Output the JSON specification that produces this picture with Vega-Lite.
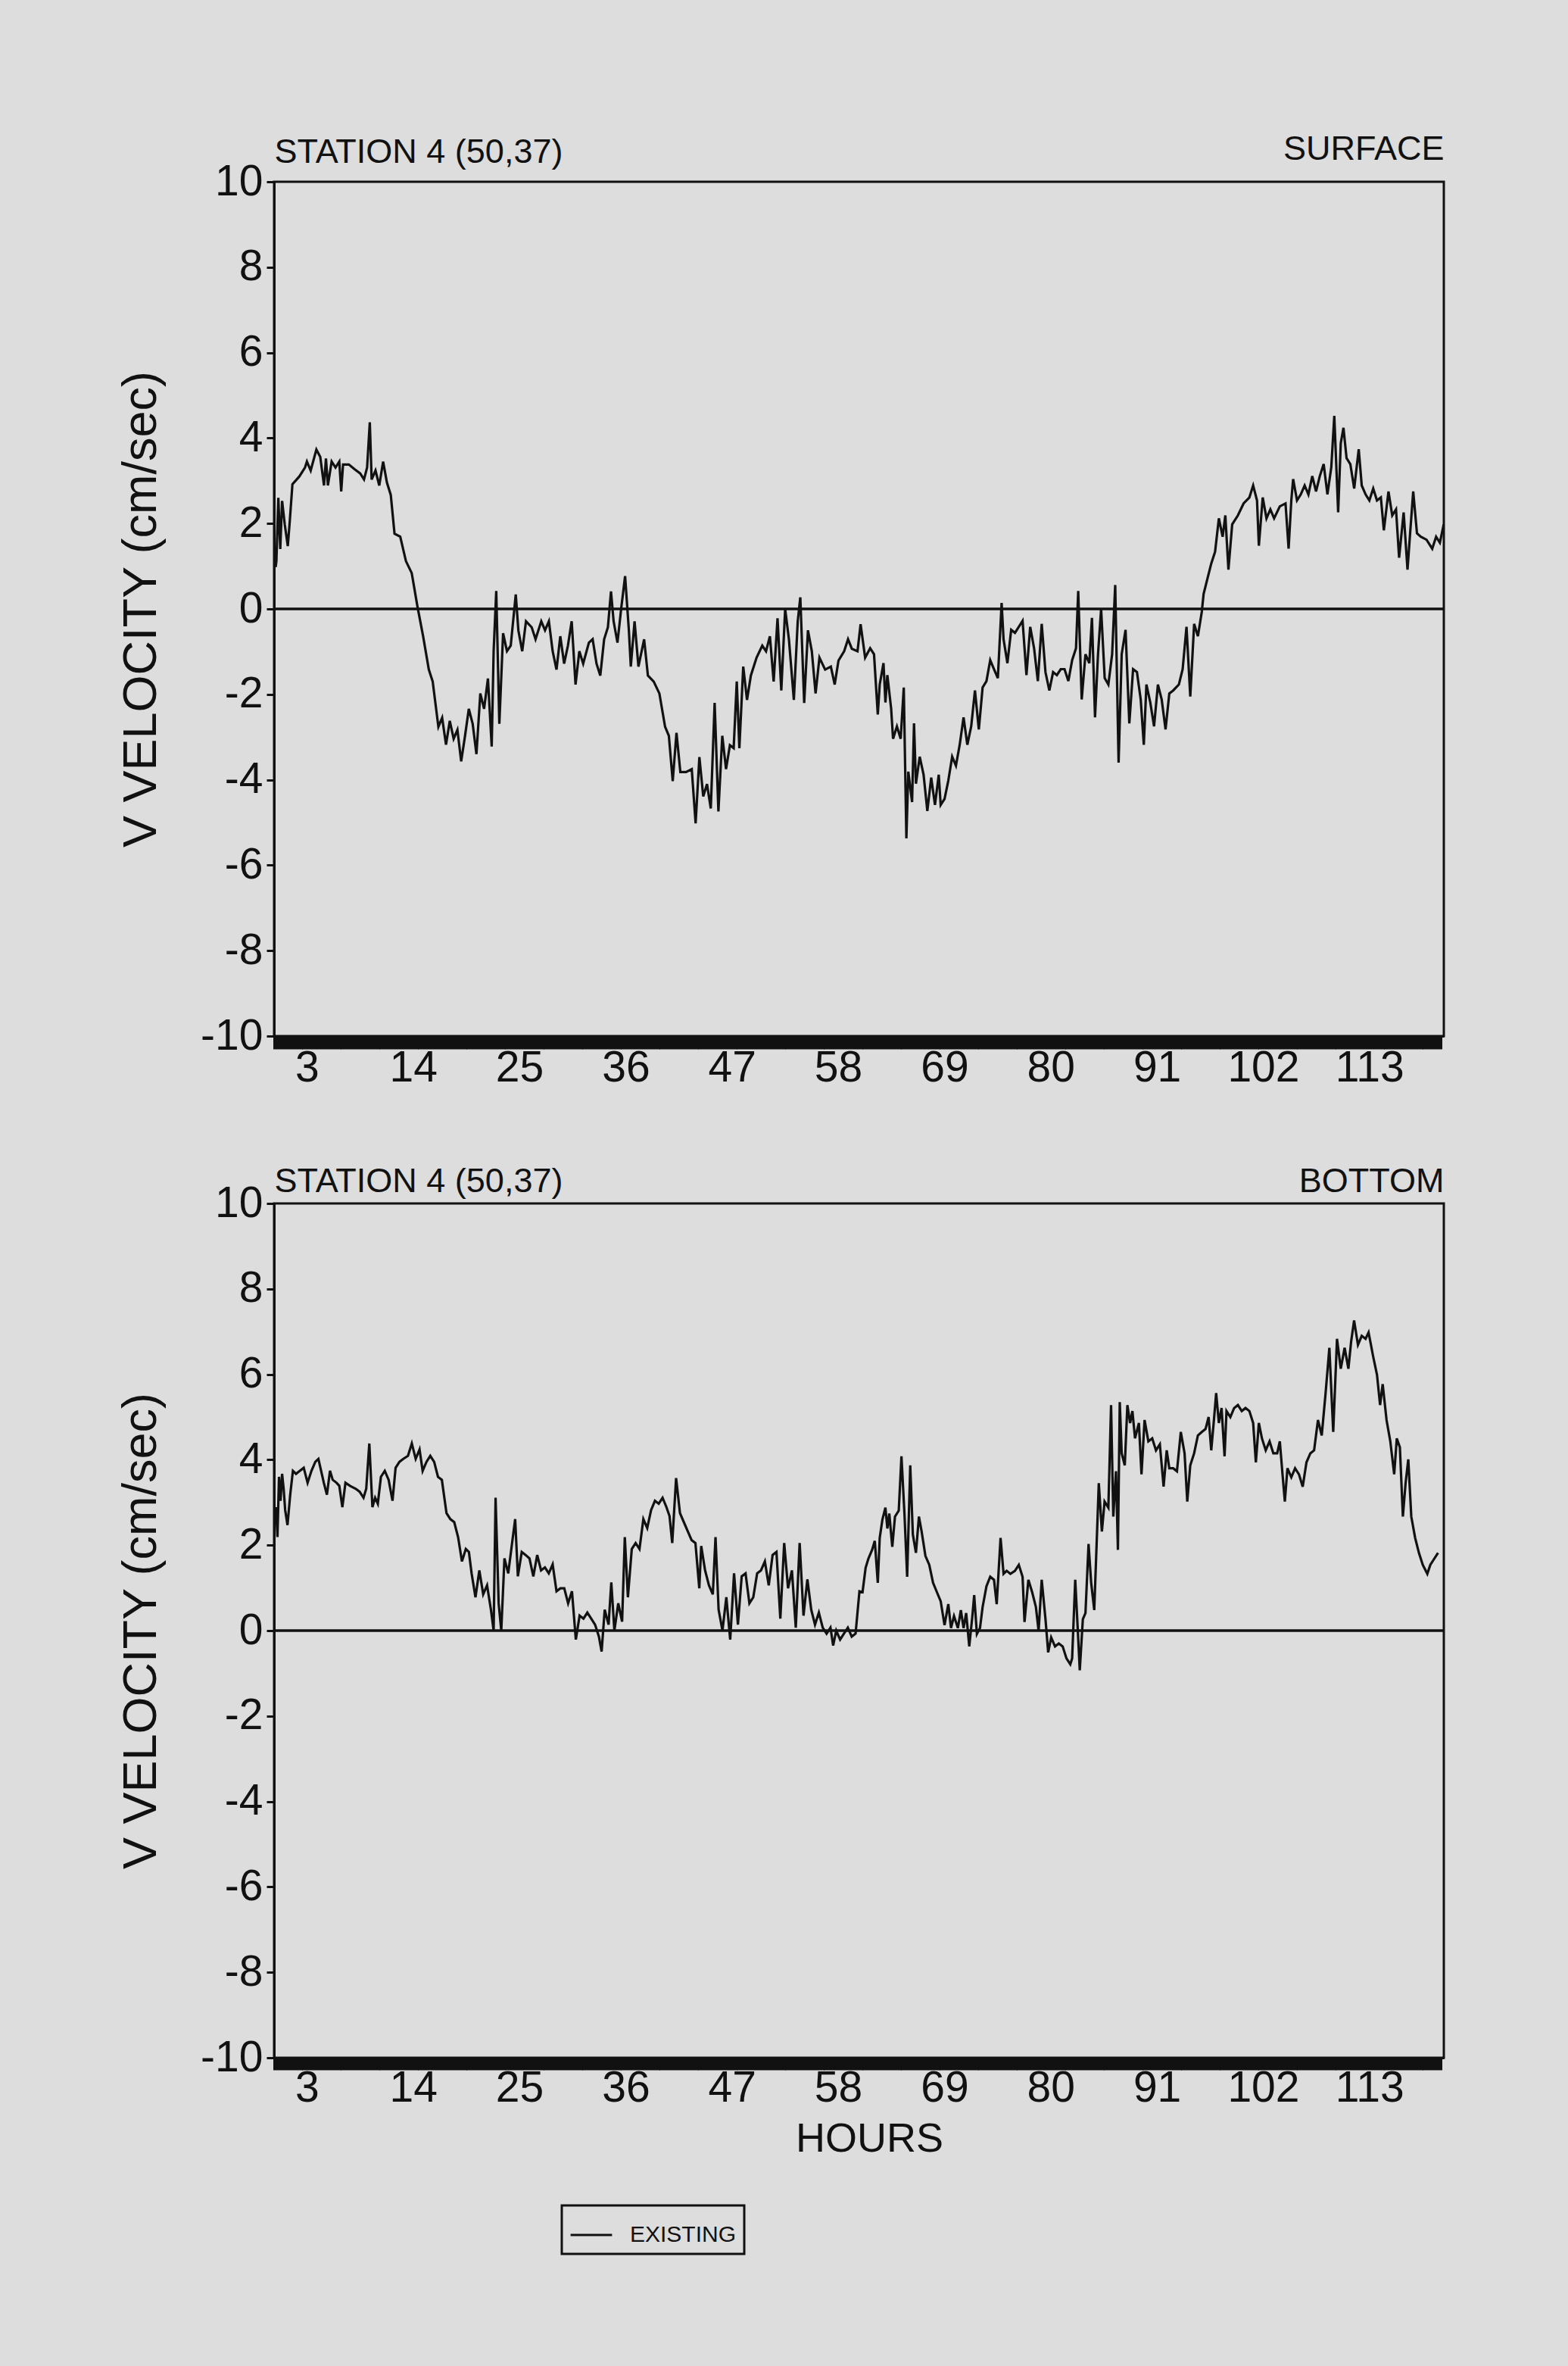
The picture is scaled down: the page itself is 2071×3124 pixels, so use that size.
{
  "$schema": "https://vega.github.io/schema/vega-lite/v6.json",
  "background": "#dddddd",
  "padding": {"left": 154, "top": 172, "right": 185, "bottom": 150},
  "bounds": "flush",
  "spacing": 221,
  "datasets": {
    "surface": [
      {"h": -0.24, "v": 0.98}, {"h": -0.16, "v": 1.12}, {"h": 0.04, "v": 2.6}, {"h": 0.24, "v": 1.4}, {"h": 0.43, "v": 2.53}, {"h": 0.71, "v": 1.97}, {"h": 1.02, "v": 1.47}, {"h": 1.22, "v": 2.04}, {"h": 1.5, "v": 2.92}, {"h": 2.21, "v": 3.1}, {"h": 2.8, "v": 3.31}, {"h": 3.0, "v": 3.45}, {"h": 3.39, "v": 3.24}, {"h": 3.98, "v": 3.73}, {"h": 4.38, "v": 3.56}, {"h": 4.77, "v": 2.89}, {"h": 4.97, "v": 3.52}, {"h": 5.17, "v": 2.89}, {"h": 5.56, "v": 3.45}, {"h": 5.96, "v": 3.31}, {"h": 6.35, "v": 3.45}, {"h": 6.55, "v": 2.75}, {"h": 6.74, "v": 3.38}, {"h": 7.34, "v": 3.38}, {"h": 7.93, "v": 3.27}, {"h": 8.52, "v": 3.17}, {"h": 8.91, "v": 3.03}, {"h": 9.23, "v": 3.31}, {"h": 9.51, "v": 4.37}, {"h": 9.7, "v": 3.03}, {"h": 10.1, "v": 3.24}, {"h": 10.49, "v": 2.89}, {"h": 10.89, "v": 3.45}, {"h": 11.28, "v": 2.96}, {"h": 11.68, "v": 2.67}, {"h": 12.07, "v": 1.76}, {"h": 12.66, "v": 1.69}, {"h": 13.25, "v": 1.12}, {"h": 13.85, "v": 0.84}, {"h": 14.44, "v": 0.06}, {"h": 15.03, "v": -0.64}, {"h": 15.62, "v": -1.42}, {"h": 16.02, "v": -1.7}, {"h": 16.61, "v": -2.76}, {"h": 17.0, "v": -2.55}, {"h": 17.4, "v": -3.18}, {"h": 17.79, "v": -2.62}, {"h": 18.19, "v": -3.04}, {"h": 18.58, "v": -2.83}, {"h": 18.97, "v": -3.57}, {"h": 19.37, "v": -2.97}, {"h": 19.76, "v": -2.34}, {"h": 20.16, "v": -2.69}, {"h": 20.55, "v": -3.4}, {"h": 20.95, "v": -1.98}, {"h": 21.34, "v": -2.34}, {"h": 21.74, "v": -1.63}, {"h": 22.13, "v": -3.22}, {"h": 22.33, "v": -0.99}, {"h": 22.6, "v": 0.42}, {"h": 22.92, "v": -2.69}, {"h": 23.31, "v": -0.57}, {"h": 23.71, "v": -0.99}, {"h": 24.1, "v": -0.86}, {"h": 24.62, "v": 0.34}, {"h": 24.89, "v": -0.5}, {"h": 25.29, "v": -0.99}, {"h": 25.68, "v": -0.29}, {"h": 26.27, "v": -0.43}, {"h": 26.67, "v": -0.71}, {"h": 27.26, "v": -0.29}, {"h": 27.65, "v": -0.5}, {"h": 28.05, "v": -0.29}, {"h": 28.44, "v": -0.99}, {"h": 28.84, "v": -1.42}, {"h": 29.23, "v": -0.64}, {"h": 29.63, "v": -1.28}, {"h": 30.02, "v": -0.86}, {"h": 30.41, "v": -0.29}, {"h": 30.81, "v": -1.77}, {"h": 31.2, "v": -0.99}, {"h": 31.6, "v": -1.28}, {"h": 32.19, "v": -0.79}, {"h": 32.58, "v": -0.71}, {"h": 32.98, "v": -1.28}, {"h": 33.37, "v": -1.56}, {"h": 33.77, "v": -0.71}, {"h": 34.16, "v": -0.43}, {"h": 34.48, "v": 0.41}, {"h": 34.75, "v": -0.29}, {"h": 35.15, "v": -0.79}, {"h": 35.54, "v": 0.02}, {"h": 35.94, "v": 0.77}, {"h": 36.33, "v": -0.5}, {"h": 36.53, "v": -1.35}, {"h": 36.92, "v": -0.29}, {"h": 37.32, "v": -1.35}, {"h": 37.91, "v": -0.71}, {"h": 38.3, "v": -1.56}, {"h": 38.9, "v": -1.7}, {"h": 39.49, "v": -1.98}, {"h": 40.08, "v": -2.76}, {"h": 40.47, "v": -2.97}, {"h": 40.87, "v": -4.03}, {"h": 41.26, "v": -2.9}, {"h": 41.66, "v": -3.82}, {"h": 42.25, "v": -3.82}, {"h": 42.84, "v": -3.75}, {"h": 43.24, "v": -5.02}, {"h": 43.63, "v": -3.47}, {"h": 44.03, "v": -4.39}, {"h": 44.42, "v": -4.1}, {"h": 44.81, "v": -4.67}, {"h": 45.21, "v": -2.2}, {"h": 45.6, "v": -4.74}, {"h": 46.0, "v": -2.97}, {"h": 46.39, "v": -3.75}, {"h": 46.79, "v": -3.19}, {"h": 47.18, "v": -3.26}, {"h": 47.5, "v": -1.7}, {"h": 47.77, "v": -3.26}, {"h": 48.17, "v": -1.35}, {"h": 48.56, "v": -2.13}, {"h": 48.96, "v": -1.56}, {"h": 49.55, "v": -1.14}, {"h": 50.14, "v": -0.86}, {"h": 50.53, "v": -0.99}, {"h": 50.93, "v": -0.64}, {"h": 51.32, "v": -1.7}, {"h": 51.72, "v": -0.22}, {"h": 52.11, "v": -1.91}, {"h": 52.51, "v": 0.0}, {"h": 52.9, "v": -0.71}, {"h": 53.41, "v": -2.13}, {"h": 53.81, "v": -0.29}, {"h": 54.08, "v": 0.27}, {"h": 54.48, "v": -2.2}, {"h": 54.87, "v": -0.5}, {"h": 55.27, "v": -0.99}, {"h": 55.66, "v": -1.98}, {"h": 56.06, "v": -1.14}, {"h": 56.65, "v": -1.42}, {"h": 57.24, "v": -1.35}, {"h": 57.64, "v": -1.77}, {"h": 58.03, "v": -1.21}, {"h": 58.62, "v": -0.99}, {"h": 59.02, "v": -0.71}, {"h": 59.41, "v": -0.93}, {"h": 60.0, "v": -0.99}, {"h": 60.32, "v": -0.36}, {"h": 60.79, "v": -1.14},
      {"h": 61.31, "v": -0.92}, {"h": 61.71, "v": -1.06}, {"h": 62.1, "v": -2.47}, {"h": 62.3, "v": -1.77}, {"h": 62.69, "v": -1.27}, {"h": 62.89, "v": -2.19}, {"h": 63.09, "v": -1.55}, {"h": 63.48, "v": -2.33}, {"h": 63.68, "v": -3.04}, {"h": 64.08, "v": -2.75}, {"h": 64.47, "v": -3.04}, {"h": 64.79, "v": -1.84}, {"h": 65.06, "v": -5.37}, {"h": 65.26, "v": -3.81}, {"h": 65.65, "v": -4.52}, {"h": 65.85, "v": -2.68}, {"h": 66.05, "v": -4.09}, {"h": 66.44, "v": -3.46}, {"h": 66.84, "v": -3.88}, {"h": 67.23, "v": -4.73}, {"h": 67.63, "v": -3.95}, {"h": 68.02, "v": -4.59}, {"h": 68.41, "v": -3.88}, {"h": 68.61, "v": -4.59}, {"h": 69.01, "v": -4.45}, {"h": 69.4, "v": -4.02}, {"h": 69.8, "v": -3.46}, {"h": 70.19, "v": -3.67}, {"h": 70.58, "v": -3.18}, {"h": 70.98, "v": -2.54}, {"h": 71.37, "v": -3.18}, {"h": 71.77, "v": -2.75}, {"h": 72.16, "v": -1.91}, {"h": 72.56, "v": -2.82}, {"h": 72.95, "v": -1.84}, {"h": 73.35, "v": -1.69}, {"h": 73.74, "v": -1.2}, {"h": 74.13, "v": -1.41}, {"h": 74.53, "v": -1.62}, {"h": 74.92, "v": 0.14}, {"h": 75.12, "v": -0.71}, {"h": 75.52, "v": -1.27}, {"h": 75.91, "v": -0.49}, {"h": 76.3, "v": -0.56}, {"h": 76.7, "v": -0.42}, {"h": 77.09, "v": -0.28}, {"h": 77.49, "v": -1.55}, {"h": 77.88, "v": -0.42}, {"h": 78.28, "v": -0.92}, {"h": 78.67, "v": -1.69}, {"h": 79.07, "v": -0.35}, {"h": 79.46, "v": -1.48}, {"h": 79.86, "v": -1.91}, {"h": 80.25, "v": -1.48}, {"h": 80.64, "v": -1.55}, {"h": 81.04, "v": -1.41}, {"h": 81.43, "v": -1.41}, {"h": 81.83, "v": -1.69}, {"h": 82.22, "v": -1.2}, {"h": 82.62, "v": -0.92}, {"h": 82.85, "v": 0.42}, {"h": 83.21, "v": -2.12}, {"h": 83.6, "v": -1.06}, {"h": 84.0, "v": -1.27}, {"h": 84.27, "v": -0.21}, {"h": 84.59, "v": -2.54}, {"h": 84.9, "v": -1.06}, {"h": 85.22, "v": 0.0}, {"h": 85.59, "v": -1.62}, {"h": 85.97, "v": -1.77}, {"h": 86.36, "v": -1.06}, {"h": 86.68, "v": 0.56}, {"h": 87.03, "v": -3.6}, {"h": 87.35, "v": -1.06}, {"h": 87.75, "v": -0.49}, {"h": 88.14, "v": -2.68}, {"h": 88.53, "v": -1.41}, {"h": 88.93, "v": -1.48}, {"h": 89.32, "v": -2.12}, {"h": 89.64, "v": -3.18}, {"h": 89.91, "v": -1.77}, {"h": 90.31, "v": -2.19}, {"h": 90.7, "v": -2.75}, {"h": 91.1, "v": -1.77}, {"h": 91.49, "v": -2.12}, {"h": 91.89, "v": -2.82}, {"h": 92.28, "v": -1.98}, {"h": 92.68, "v": -1.91}, {"h": 93.27, "v": -1.77}, {"h": 93.66, "v": -1.41}, {"h": 94.06, "v": -0.42}, {"h": 94.45, "v": -2.05}, {"h": 94.85, "v": -0.35}, {"h": 95.24, "v": -0.64}, {"h": 95.64, "v": -0.07}, {"h": 95.83, "v": 0.35}, {"h": 96.23, "v": 0.71}, {"h": 96.62, "v": 1.06}, {"h": 97.02, "v": 1.34}, {"h": 97.41, "v": 2.12}, {"h": 97.8, "v": 1.69}, {"h": 98.08, "v": 2.19}, {"h": 98.4, "v": 0.92}, {"h": 98.79, "v": 1.98}, {"h": 99.38, "v": 2.19}, {"h": 99.97, "v": 2.47}, {"h": 100.57, "v": 2.61}, {"h": 100.96, "v": 2.89}, {"h": 101.36, "v": 2.54}, {"h": 101.55, "v": 1.48}, {"h": 101.95, "v": 2.61}, {"h": 102.34, "v": 2.12}, {"h": 102.74, "v": 2.33}, {"h": 103.13, "v": 2.12}, {"h": 103.72, "v": 2.4}, {"h": 104.31, "v": 2.47}, {"h": 104.63, "v": 1.41}, {"h": 104.91, "v": 2.54}, {"h": 105.1, "v": 3.04}, {"h": 105.5, "v": 2.54}, {"h": 105.89, "v": 2.68}, {"h": 106.29, "v": 2.89}, {"h": 106.68, "v": 2.68}, {"h": 107.08, "v": 3.11}, {"h": 107.47, "v": 2.75}, {"h": 107.86, "v": 3.11}, {"h": 108.26, "v": 3.39}, {"h": 108.65, "v": 2.68}, {"h": 109.05, "v": 3.32}, {"h": 109.36, "v": 4.52}, {"h": 109.76, "v": 2.26}, {"h": 110.03, "v": 3.88}, {"h": 110.31, "v": 4.24}, {"h": 110.63, "v": 3.53}, {"h": 111.02, "v": 3.39}, {"h": 111.42, "v": 2.82}, {"h": 111.89, "v": 3.74}, {"h": 112.2, "v": 2.89}, {"h": 112.6, "v": 2.68}, {"h": 112.99, "v": 2.54}, {"h": 113.39, "v": 2.82}, {"h": 113.78, "v": 2.54}, {"h": 114.18, "v": 2.61}, {"h": 114.49, "v": 1.84}, {"h": 114.97, "v": 2.75}, {"h": 115.36, "v": 2.19}, {"h": 115.75, "v": 2.33}, {"h": 116.07, "v": 1.2}, {"h": 116.54, "v": 2.26}, {"h": 116.94, "v": 0.92}, {"h": 117.21, "v": 1.77}, {"h": 117.53, "v": 2.75}, {"h": 117.92, "v": 1.77}, {"h": 118.32, "v": 1.69}, {"h": 118.91, "v": 1.62}, {"h": 119.5, "v": 1.41}, {"h": 119.9, "v": 1.69}, {"h": 120.29, "v": 1.55}, {"h": 120.69, "v": 1.98}
    ],
    "bottom": [
      {"h": -0.2, "v": 2.89}, {"h": -0.05, "v": 2.19}, {"h": 0.11, "v": 3.6}, {"h": 0.27, "v": 3.04}, {"h": 0.43, "v": 3.67}, {"h": 0.59, "v": 3.32}, {"h": 0.75, "v": 2.82}, {"h": 0.99, "v": 2.47}, {"h": 1.27, "v": 3.18}, {"h": 1.55, "v": 3.74}, {"h": 1.87, "v": 3.67}, {"h": 2.27, "v": 3.74}, {"h": 2.67, "v": 3.81}, {"h": 3.07, "v": 3.46}, {"h": 3.47, "v": 3.74}, {"h": 3.87, "v": 3.95}, {"h": 4.19, "v": 4.02}, {"h": 4.47, "v": 3.74}, {"h": 4.75, "v": 3.46}, {"h": 5.07, "v": 3.18}, {"h": 5.39, "v": 3.74}, {"h": 5.67, "v": 3.53}, {"h": 6.07, "v": 3.46}, {"h": 6.35, "v": 3.39}, {"h": 6.67, "v": 2.89}, {"h": 6.99, "v": 3.46}, {"h": 7.46, "v": 3.39}, {"h": 8.06, "v": 3.32}, {"h": 8.46, "v": 3.25}, {"h": 8.86, "v": 3.11}, {"h": 9.14, "v": 3.32}, {"h": 9.46, "v": 4.38}, {"h": 9.78, "v": 2.89}, {"h": 10.06, "v": 3.11}, {"h": 10.34, "v": 2.97}, {"h": 10.66, "v": 3.6}, {"h": 11.06, "v": 3.74}, {"h": 11.46, "v": 3.53}, {"h": 11.86, "v": 3.04}, {"h": 12.18, "v": 3.81}, {"h": 12.58, "v": 3.95}, {"h": 12.98, "v": 4.02}, {"h": 13.46, "v": 4.09}, {"h": 13.86, "v": 4.38}, {"h": 14.26, "v": 4.02}, {"h": 14.66, "v": 4.24}, {"h": 14.98, "v": 3.74}, {"h": 15.38, "v": 3.95}, {"h": 15.77, "v": 4.09}, {"h": 16.17, "v": 3.95}, {"h": 16.57, "v": 3.6}, {"h": 16.97, "v": 3.53}, {"h": 17.45, "v": 2.75}, {"h": 17.85, "v": 2.61}, {"h": 18.25, "v": 2.54}, {"h": 18.65, "v": 2.19}, {"h": 19.05, "v": 1.62}, {"h": 19.45, "v": 1.91}, {"h": 19.77, "v": 1.84}, {"h": 20.05, "v": 1.34}, {"h": 20.45, "v": 0.78}, {"h": 20.85, "v": 1.41}, {"h": 21.25, "v": 0.85}, {"h": 21.65, "v": 1.06}, {"h": 22.05, "v": 0.49}, {"h": 22.33, "v": 0.0}, {"h": 22.53, "v": 3.11}, {"h": 22.85, "v": 0.64}, {"h": 23.12, "v": 0.0}, {"h": 23.45, "v": 1.69}, {"h": 23.84, "v": 1.34}, {"h": 24.24, "v": 2.05}, {"h": 24.56, "v": 2.61}, {"h": 24.84, "v": 1.27}, {"h": 25.24, "v": 1.84}, {"h": 25.64, "v": 1.77}, {"h": 26.04, "v": 1.69}, {"h": 26.44, "v": 1.27}, {"h": 26.84, "v": 1.77}, {"h": 27.24, "v": 1.41}, {"h": 27.64, "v": 1.48}, {"h": 28.04, "v": 1.34}, {"h": 28.44, "v": 1.55}, {"h": 28.84, "v": 0.92}, {"h": 29.24, "v": 0.99}, {"h": 29.64, "v": 0.99}, {"h": 30.04, "v": 0.64}, {"h": 30.44, "v": 0.92}, {"h": 30.84, "v": -0.21}, {"h": 31.23, "v": 0.35}, {"h": 31.63, "v": 0.28}, {"h": 32.03, "v": 0.42}, {"h": 32.43, "v": 0.28}, {"h": 32.83, "v": 0.14}, {"h": 33.23, "v": -0.14}, {"h": 33.51, "v": -0.49}, {"h": 33.83, "v": 0.49}, {"h": 34.23, "v": 0.14}, {"h": 34.51, "v": 1.13}, {"h": 34.83, "v": 0.0}, {"h": 35.23, "v": 0.64}, {"h": 35.63, "v": 0.21}, {"h": 35.91, "v": 2.19}, {"h": 36.23, "v": 0.78}, {"h": 36.63, "v": 1.91}, {"h": 37.03, "v": 2.05}, {"h": 37.43, "v": 1.91}, {"h": 37.83, "v": 2.61}, {"h": 38.23, "v": 2.4}, {"h": 38.63, "v": 2.82}, {"h": 39.03, "v": 3.04}, {"h": 39.42, "v": 2.97}, {"h": 39.82, "v": 3.11}, {"h": 40.22, "v": 2.89}, {"h": 40.54, "v": 2.68}, {"h": 40.82, "v": 2.05}, {"h": 41.22, "v": 3.57}, {"h": 41.62, "v": 2.75}, {"h": 42.02, "v": 2.54}, {"h": 42.42, "v": 2.33}, {"h": 42.82, "v": 2.12}, {"h": 43.22, "v": 2.05}, {"h": 43.62, "v": 0.99}, {"h": 43.82, "v": 1.98}, {"h": 44.22, "v": 1.41}, {"h": 44.62, "v": 1.06}, {"h": 45.02, "v": 0.85}, {"h": 45.3, "v": 2.19}, {"h": 45.62, "v": 0.49}, {"h": 46.02, "v": 0.0}, {"h": 46.42, "v": 0.78}, {"h": 46.82, "v": -0.21}, {"h": 47.22, "v": 1.34}, {"h": 47.62, "v": 0.14}, {"h": 48.01, "v": 1.27}, {"h": 48.41, "v": 1.34}, {"h": 48.81, "v": 0.64}, {"h": 49.21, "v": 0.78}, {"h": 49.61, "v": 1.34}, {"h": 50.01, "v": 1.41}, {"h": 50.41, "v": 1.62}, {"h": 50.81, "v": 1.06}, {"h": 51.21, "v": 1.77}, {"h": 51.61, "v": 1.84}, {"h": 52.01, "v": 0.28}, {"h": 52.41, "v": 2.05}, {"h": 52.81, "v": 0.99}, {"h": 53.21, "v": 1.41}, {"h": 53.61, "v": 0.07}, {"h": 54.01, "v": 2.05}, {"h": 54.41, "v": 0.35}, {"h": 54.81, "v": 1.2}, {"h": 55.21, "v": 0.49}, {"h": 55.6, "v": 0.14}, {"h": 56.0, "v": 0.42}, {"h": 56.4, "v": 0.07}, {"h": 56.8, "v": -0.07}, {"h": 57.2, "v": 0.07}, {"h": 57.48, "v": -0.35}, {"h": 57.8, "v": 0.0}, {"h": 58.2, "v": -0.21}, {"h": 58.6, "v": -0.07}, {"h": 59.0, "v": 0.07}, {"h": 59.4, "v": -0.14}, {"h": 59.8, "v": -0.07}, {"h": 60.2, "v": 0.92},
      {"h": 60.52, "v": 0.9}, {"h": 60.84, "v": 1.47}, {"h": 61.12, "v": 1.68}, {"h": 61.51, "v": 1.89}, {"h": 61.79, "v": 2.1}, {"h": 62.1, "v": 1.12}, {"h": 62.3, "v": 2.17}, {"h": 62.58, "v": 2.6}, {"h": 62.89, "v": 2.88}, {"h": 63.09, "v": 2.39}, {"h": 63.29, "v": 2.74}, {"h": 63.6, "v": 1.96}, {"h": 63.88, "v": 2.67}, {"h": 64.27, "v": 2.81}, {"h": 64.55, "v": 4.08}, {"h": 64.86, "v": 2.74}, {"h": 65.14, "v": 1.26}, {"h": 65.46, "v": 3.87}, {"h": 65.73, "v": 2.25}, {"h": 66.05, "v": 1.82}, {"h": 66.36, "v": 2.67}, {"h": 66.64, "v": 2.32}, {"h": 67.03, "v": 1.75}, {"h": 67.43, "v": 1.54}, {"h": 67.82, "v": 1.12}, {"h": 68.22, "v": 0.9}, {"h": 68.61, "v": 0.69}, {"h": 69.01, "v": 0.13}, {"h": 69.4, "v": 0.62}, {"h": 69.68, "v": 0.06}, {"h": 69.99, "v": 0.34}, {"h": 70.39, "v": 0.06}, {"h": 70.7, "v": 0.48}, {"h": 70.98, "v": 0.06}, {"h": 71.25, "v": 0.41}, {"h": 71.57, "v": -0.37}, {"h": 71.89, "v": 0.34}, {"h": 72.08, "v": 0.83}, {"h": 72.36, "v": -0.08}, {"h": 72.68, "v": 0.06}, {"h": 72.95, "v": 0.55}, {"h": 73.35, "v": 1.04}, {"h": 73.74, "v": 1.26}, {"h": 74.13, "v": 1.19}, {"h": 74.41, "v": 0.62}, {"h": 74.81, "v": 2.17}, {"h": 75.12, "v": 1.33}, {"h": 75.44, "v": 1.4}, {"h": 75.83, "v": 1.33}, {"h": 76.3, "v": 1.4}, {"h": 76.7, "v": 1.54}, {"h": 77.09, "v": 1.26}, {"h": 77.29, "v": 0.2}, {"h": 77.69, "v": 1.19}, {"h": 78.08, "v": 0.9}, {"h": 78.47, "v": 0.55}, {"h": 78.75, "v": -0.01}, {"h": 79.07, "v": 1.19}, {"h": 79.46, "v": 0.27}, {"h": 79.74, "v": -0.51}, {"h": 80.05, "v": -0.16}, {"h": 80.45, "v": -0.37}, {"h": 80.84, "v": -0.3}, {"h": 81.24, "v": -0.37}, {"h": 81.63, "v": -0.65}, {"h": 82.03, "v": -0.79}, {"h": 82.22, "v": -0.65}, {"h": 82.54, "v": 1.19}, {"h": 82.81, "v": -0.01}, {"h": 83.01, "v": -0.93}, {"h": 83.33, "v": 0.27}, {"h": 83.6, "v": 0.41}, {"h": 83.92, "v": 2.03}, {"h": 84.19, "v": 1.12}, {"h": 84.51, "v": 0.48}, {"h": 84.79, "v": 2.25}, {"h": 84.98, "v": 3.45}, {"h": 85.3, "v": 2.32}, {"h": 85.58, "v": 3.02}, {"h": 85.97, "v": 2.88}, {"h": 86.25, "v": 5.28}, {"h": 86.48, "v": 2.67}, {"h": 86.76, "v": 3.73}, {"h": 86.96, "v": 1.89}, {"h": 87.15, "v": 5.35}, {"h": 87.35, "v": 4.15}, {"h": 87.67, "v": 3.87}, {"h": 87.94, "v": 5.28}, {"h": 88.22, "v": 4.86}, {"h": 88.46, "v": 5.14}, {"h": 88.73, "v": 4.5}, {"h": 89.13, "v": 4.86}, {"h": 89.4, "v": 3.66}, {"h": 89.72, "v": 4.93}, {"h": 90.11, "v": 4.43}, {"h": 90.51, "v": 4.5}, {"h": 90.9, "v": 4.22}, {"h": 91.3, "v": 4.36}, {"h": 91.69, "v": 3.37}, {"h": 92.01, "v": 4.22}, {"h": 92.28, "v": 3.8}, {"h": 92.68, "v": 3.8}, {"h": 93.07, "v": 3.73}, {"h": 93.47, "v": 4.65}, {"h": 93.86, "v": 4.15}, {"h": 94.14, "v": 3.02}, {"h": 94.45, "v": 3.87}, {"h": 94.85, "v": 4.15}, {"h": 95.24, "v": 4.57}, {"h": 95.64, "v": 4.65}, {"h": 96.03, "v": 4.72}, {"h": 96.35, "v": 5.0}, {"h": 96.62, "v": 4.22}, {"h": 96.9, "v": 4.93}, {"h": 97.13, "v": 5.56}, {"h": 97.41, "v": 4.86}, {"h": 97.69, "v": 5.21}, {"h": 98.0, "v": 4.08}, {"h": 98.2, "v": 5.14}, {"h": 98.6, "v": 5.0}, {"h": 98.99, "v": 5.21}, {"h": 99.38, "v": 5.28}, {"h": 99.78, "v": 5.14}, {"h": 100.17, "v": 5.21}, {"h": 100.57, "v": 5.14}, {"h": 100.96, "v": 4.86}, {"h": 101.24, "v": 3.94}, {"h": 101.55, "v": 4.86}, {"h": 101.87, "v": 4.5}, {"h": 102.26, "v": 4.22}, {"h": 102.66, "v": 4.43}, {"h": 103.05, "v": 4.15}, {"h": 103.45, "v": 4.15}, {"h": 103.72, "v": 4.43}, {"h": 104.0, "v": 3.66}, {"h": 104.24, "v": 3.02}, {"h": 104.51, "v": 3.8}, {"h": 104.91, "v": 3.59}, {"h": 105.3, "v": 3.8}, {"h": 105.7, "v": 3.66}, {"h": 106.09, "v": 3.37}, {"h": 106.48, "v": 3.94}, {"h": 106.88, "v": 4.15}, {"h": 107.27, "v": 4.22}, {"h": 107.67, "v": 4.93}, {"h": 108.06, "v": 4.57}, {"h": 108.46, "v": 5.56}, {"h": 108.85, "v": 6.62}, {"h": 109.25, "v": 4.65}, {"h": 109.64, "v": 6.83}, {"h": 110.03, "v": 6.13}, {"h": 110.43, "v": 6.62}, {"h": 110.82, "v": 6.13}, {"h": 111.1, "v": 6.76}, {"h": 111.41, "v": 7.26}, {"h": 111.81, "v": 6.69}, {"h": 112.2, "v": 6.9}, {"h": 112.6, "v": 6.83}, {"h": 112.91, "v": 6.98}, {"h": 113.39, "v": 6.41}, {"h": 113.78, "v": 5.99}, {"h": 114.1, "v": 5.28}, {"h": 114.37, "v": 5.77}, {"h": 114.77, "v": 4.93}, {"h": 115.16, "v": 4.43}, {"h": 115.56, "v": 3.66}, {"h": 115.83, "v": 4.5}, {"h": 116.15, "v": 4.29}, {"h": 116.46, "v": 2.67}, {"h": 116.74, "v": 3.45}, {"h": 117.02, "v": 4.01}, {"h": 117.33, "v": 2.67}, {"h": 117.73, "v": 2.17}, {"h": 118.12, "v": 1.82}, {"h": 118.52, "v": 1.54}, {"h": 118.99, "v": 1.33}, {"h": 119.3, "v": 1.54}, {"h": 119.7, "v": 1.68}, {"h": 120.1, "v": 1.82}
    ],
    "zero": [{"a": -0.4, "b": 120.7, "v": 0}]
  },
  "vconcat": [
    {
      "width": 1545,
      "height": 1128,
      "resolve": {"axis": {"x": "independent"}},
      "layer": [
        {
          "data": {"name": "surface"},
          "mark": {"type": "line", "color": "#111111", "strokeWidth": 3.2, "clip": true},
          "encoding": {
            "x": {"field": "h", "type": "quantitative", "scale": {"domain": [-0.4, 120.7], "nice": false, "zero": false},
              "axis": {"orient": "bottom", "title": null, "values": [0,1,2,3,4,5,6,7,8,9,10,11,12,13,14,15,16,17,18,19,20,21,22,23,24,25,26,27,28,29,30,31,32,33,34,35,36,37,38,39,40,41,42,43,44,45,46,47,48,49,50,51,52,53,54,55,56,57,58,59,60,61,62,63,64,65,66,67,68,69,70,71,72,73,74,75,76,77,78,79,80,81,82,83,84,85,86,87,88,89,90,91,92,93,94,95,96,97,98,99,100,101,102,103,104,105,106,107,108,109,110,111,112,113,114,115,116,117,118,119,120],
                "labelExpr": "(datum.value - 3) % 11 === 0 ? datum.label : ''", "labelOverlap": false, "labelFlush": false, "labelBound": false,
                "tickSize": 17, "tickWidth": 13, "labelFontSize": 57, "labelPadding": -3, "domainWidth": 3}},
            "y": {"field": "v", "type": "quantitative", "scale": {"domain": [-10, 10], "nice": false},
              "axis": {"values": [-10,-8,-6,-4,-2,0,2,4,6,8,10], "labelExpr": "'' + datum.value", "title": "V VELOCITY (cm/sec)", "titleFontSize": 63, "titlePadding": 46, "tickSize": 10, "tickWidth": 3, "domainWidth": 3, "labelFontSize": 57, "labelPadding": 5}}
          }
        },
        {
          "data": {"name": "zero"},
          "mark": {"type": "rule", "color": "#111111", "strokeWidth": 3},
          "encoding": {
            "x": {"field": "a", "type": "quantitative", "axis": {"orient": "top", "title": "STATION 4 (50,37)", "titleAnchor": "start", "titleFontSize": 45, "titlePadding": 26, "titleBaseline": "alphabetic", "labels": false, "ticks": false, "domain": false, "tickSize": 0}},
            "x2": {"field": "b"},
            "y": {"field": "v", "type": "quantitative"}
          }
        },
        {
          "data": {"name": "zero"},
          "mark": {"type": "rule", "color": "#111111", "strokeWidth": 3},
          "encoding": {
            "x": {"field": "a", "type": "quantitative", "axis": {"orient": "top", "title": "SURFACE", "titleAnchor": "end", "titleFontSize": 45, "titlePadding": 30, "titleBaseline": "alphabetic", "labels": false, "ticks": false, "domain": false, "tickSize": 0}},
            "x2": {"field": "b"},
            "y": {"field": "v", "type": "quantitative"}
          }
        }
      ]
    },
    {
      "width": 1545,
      "height": 1128,
      "resolve": {"axis": {"x": "independent"}},
      "layer": [
        {
          "data": {"name": "bottom"},
          "mark": {"type": "line", "strokeWidth": 3.2, "clip": true},
          "encoding": {
            "x": {"field": "h", "type": "quantitative", "scale": {"domain": [-0.4, 120.7], "nice": false, "zero": false},
              "axis": {"orient": "bottom", "title": "HOURS", "titleFontSize": 54, "titlePadding": 12, "titleX": 786, "values": [0,1,2,3,4,5,6,7,8,9,10,11,12,13,14,15,16,17,18,19,20,21,22,23,24,25,26,27,28,29,30,31,32,33,34,35,36,37,38,39,40,41,42,43,44,45,46,47,48,49,50,51,52,53,54,55,56,57,58,59,60,61,62,63,64,65,66,67,68,69,70,71,72,73,74,75,76,77,78,79,80,81,82,83,84,85,86,87,88,89,90,91,92,93,94,95,96,97,98,99,100,101,102,103,104,105,106,107,108,109,110,111,112,113,114,115,116,117,118,119,120],
                "labelExpr": "(datum.value - 3) % 11 === 0 ? datum.label : ''", "labelOverlap": false, "labelFlush": false, "labelBound": false,
                "tickSize": 16, "tickWidth": 13, "labelFontSize": 57, "labelPadding": -4, "domainWidth": 3}},
            "y": {"field": "v", "type": "quantitative", "scale": {"domain": [-10, 10], "nice": false},
              "axis": {"values": [-10,-8,-6,-4,-2,0,2,4,6,8,10], "labelExpr": "'' + datum.value", "title": "V VELOCITY (cm/sec)", "titleFontSize": 63, "titlePadding": 46, "tickSize": 10, "tickWidth": 3, "domainWidth": 3, "labelFontSize": 57, "labelPadding": 5}},
            "color": {"datum": "EXISTING", "type": "nominal", "scale": {"range": ["#111111"]},
              "legend": {"title": null, "orient": "none", "legendX": 380, "legendY": 2672, "strokeColor": "#111111", "padding": 10, "symbolType": "stroke", "symbolSize": 3000, "symbolStrokeWidth": 3, "labelFontSize": 30, "labelOffset": 22, "labelFont": "Liberation Sans", "labelColor": "#111111"}}
          }
        },
        {
          "data": {"name": "zero"},
          "mark": {"type": "rule", "color": "#111111", "strokeWidth": 3},
          "encoding": {
            "x": {"field": "a", "type": "quantitative", "axis": {"orient": "top", "title": "STATION 4 (50,37)", "titleAnchor": "start", "titleFontSize": 45, "titlePadding": 16, "titleBaseline": "alphabetic", "labels": false, "ticks": false, "domain": false, "tickSize": 0}},
            "x2": {"field": "b"},
            "y": {"field": "v", "type": "quantitative"}
          }
        },
        {
          "data": {"name": "zero"},
          "mark": {"type": "rule", "color": "#111111", "strokeWidth": 3},
          "encoding": {
            "x": {"field": "a", "type": "quantitative", "axis": {"orient": "top", "title": "BOTTOM", "titleAnchor": "end", "titleFontSize": 45, "titlePadding": 16, "titleBaseline": "alphabetic", "labels": false, "ticks": false, "domain": false, "tickSize": 0}},
            "x2": {"field": "b"},
            "y": {"field": "v", "type": "quantitative"}
          }
        }
      ]
    }
  ],
  "config": {
    "font": "Liberation Sans",
    "view": {"stroke": "#111111", "strokeWidth": 3},
    "legend": {"strokeWidth": 3},
    "axis": {"grid": false, "domainColor": "#111111", "tickColor": "#111111", "labelColor": "#111111", "titleColor": "#111111", "labelFont": "Liberation Sans", "titleFont": "Liberation Sans", "titleFontWeight": "normal"}
  }
}
